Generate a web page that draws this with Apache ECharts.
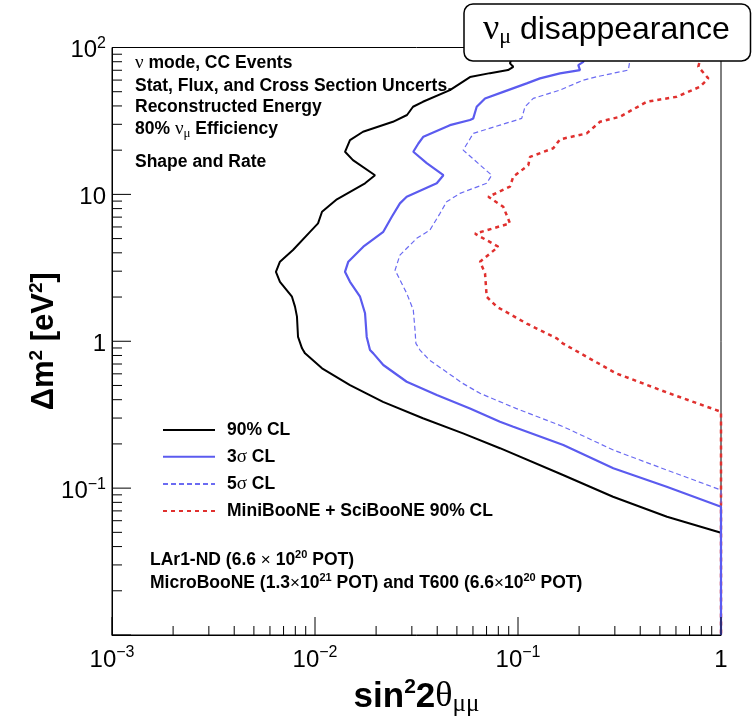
<!DOCTYPE html>
<html><head><meta charset="utf-8">
<script src="https://cdn.jsdelivr.net/npm/echarts@6/dist/echarts.min.js"></script>
<style>html,body{margin:0;padding:0;background:#fff}#c{width:752px;height:728px}</style>
</head><body><div id="c"></div><script>
// ---- data (sin^2 2theta , delta m^2 [eV^2]) ----
const cl90_sin2 = [0.0966, 0.0913, 0.0948, 0.0893, 0.0728, 0.0580, 0.0462, 0.0340, 0.0304, 0.0284, 0.0242, 0.01724, 0.01487, 0.01406, 0.01538, 0.01975, 0.01764, 0.01282, 0.01083, 0.01035, 0.00945, 0.00779, 0.00672, 0.00642, 0.00672, 0.00770, 0.00797, 0.00815, 0.00825, 0.00863, 0.00893, 0.01083, 0.01487, 0.02163, 0.0340, 0.0536, 0.0815, 0.1666, 0.2938, 0.542, 1, 1];
const cl90_dm2  = [100, 78.0, 73.9, 70.2, 66.9, 62.9, 51.3, 42.7, 39.5, 34.7, 31.2, 26.7, 23.4, 19.5, 17.1, 13.5, 11.9, 9.25, 7.61, 6.35, 5.56, 4.18, 3.48, 2.97, 2.54, 2.01, 1.72, 1.47, 1.07, 0.895, 0.827, 0.654, 0.503, 0.387, 0.299, 0.236, 0.187, 0.1228, 0.0874, 0.0639, 0.0497, 0.01];

const s3_sin2 = [0.2163, 0.2098, 0.1982, 0.2020, 0.1610, 0.1283, 0.1104, 0.0846, 0.0688, 0.0626, 0.0602, 0.0580, 0.0462, 0.0342, 0.0323, 0.0305, 0.0355, 0.0429, 0.0398, 0.0283, 0.0262, 0.0239, 0.0217, 0.01730, 0.01459, 0.01405, 0.01487, 0.01667, 0.01764, 0.01798, 0.01866, 0.01937, 0.0217, 0.0283, 0.0398, 0.0580, 0.0815, 0.0948, 0.1672, 0.2948, 0.540, 1, 1];
const s3_dm2  = [100, 79.9, 75.9, 70.2, 66.6, 61.6, 57.0, 49.9, 45.0, 39.5, 32.9, 32.1, 29.6, 24.7, 22.2, 19.5, 16.3, 13.5, 11.9, 9.63, 8.68, 7.04, 5.56, 4.40, 3.48, 2.97, 2.54, 2.01, 1.55, 1.07, 0.871, 0.827, 0.689, 0.530, 0.430, 0.349, 0.283, 0.262, 0.1965, 0.1364, 0.1022, 0.0747, 0.01];

const s5_sin2 = [0.3685, 0.356, 0.3495, 0.2442, 0.2098, 0.1610, 0.1189, 0.1083, 0.1043, 0.0815, 0.0602, 0.0537, 0.0742, 0.0701, 0.0518, 0.0445, 0.0413, 0.0368, 0.0317, 0.0262, 0.0248, 0.0283, 0.0305, 0.0311, 0.0314, 0.0329, 0.0366, 0.0534, 0.0650, 0.0977, 0.1672, 0.2948, 0.540, 1, 1];
const s5_dm2  = [100, 82.1, 70.2, 63.2, 60.0, 51.3, 45.0, 39.5, 32.9, 29.6, 26.0, 20.0, 13.5, 11.9, 10.16, 8.91, 7.43, 5.71, 5.02, 3.86, 3.05, 2.12, 1.63, 1.19, 0.968, 0.871, 0.745, 0.517, 0.442, 0.349, 0.262, 0.1817, 0.1328, 0.0971, 0.01];

const mb_sin2 = [0.815, 0.788, 0.773, 0.866, 0.788, 0.605, 0.4306, 0.318, 0.2535, 0.218, 0.1610, 0.1492, 0.1146, 0.1124, 0.0948, 0.0913, 0.0714, 0.0846, 0.0913, 0.0614, 0.0800, 0.0650, 0.0688, 0.0701, 0.0785, 0.1104, 0.1551, 0.166, 0.304, 0.556, 1, 1];
const mb_dm2  = [100, 82.1, 73.9, 61.6, 54.0, 46.2, 42.7, 33.8, 31.2, 26.0, 23.7, 20.6, 18.0, 15.8, 13.2, 11.3, 9.63, 8.23, 6.35, 5.4, 4.40, 3.48, 2.90, 2.01, 1.72, 1.32, 1.047, 0.968, 0.605, 0.442, 0.331, 0.01];

const seriesNames = ['90% CL', '3σ CL', '5σ CL', 'MiniBooNE + SciBooNE 90% CL'];

// ---- axes ----
const X_MIN = 0.001, X_MAX = 1, Y_MIN = 0.01, Y_MAX = 100;
const xTickValues = [0.001, 0.01, 0.1, 1];
const xTickLabels = ['10{sup|−3}', '10{sup|−2}', '10{sup|−1}', '1'];
const yTickValues = [0.1, 1, 10, 100];
const yTickLabels = ['10{sup|−1}', '1', '10', '10{sup|2}'];

const F = '"Liberation Sans", Arial, Helvetica, sans-serif';
const G = '"Liberation Serif", "DejaVu Serif", serif';

function zip(a, b) { return a.map((v, i) => [v, b[i]]); }
function findLabel(vals, labs, v) {
  for (let i = 0; i < vals.length; i++) {
    if (Math.abs(Math.log10(v) - Math.log10(vals[i])) < 1e-6) return labs[i].replace(/^([^{]+)/, '{m|$1}');
  }
  return '';
}
// minor/major tick positions (2..9 x decade)
function logTicks(lo, hi) {
  const out = [];
  for (let e = lo; e < hi; e++) for (let m = 1; m <= 9; m++) out.push([m * Math.pow(10, e), m === 1]);
  out.push([Math.pow(10, hi), true]);
  return out;
}
const xTicks = logTicks(-3, 0).map(t => [t[0], Y_MIN, t[1] ? 18 : 9]);
const yTicks = logTicks(-2, 2).map(t => [X_MIN, t[0], t[1] ? 19 : 10]);

const labelRich = {
  m: {fontFamily: F, fontSize: 24, lineHeight: 30, color: '#000'},
  sup: {fontFamily: F, fontSize: 16, lineHeight: 13, verticalAlign: 'top', color: '#000'}
};

const chart = echarts.init(document.getElementById('c'), null, {renderer: 'canvas'});

const txtRich = {
  g: {fontFamily: G, fontSize: 19, fontWeight: 'normal', lineHeight: 22, fill: '#000'},
  sub: {fontFamily: G, fontSize: 13, fontWeight: 'normal', lineHeight: 8, verticalAlign: 'bottom', fill: '#000'},
  sup: {fontFamily: F, fontSize: 11, fontWeight: 'bold', lineHeight: 12, verticalAlign: 'top', fill: '#000'},
  n: {fontFamily: F, fontSize: 17, fontWeight: 'normal', lineHeight: 22, fill: '#000'}
};
function txt(x, y, s) {
  return {type: 'text', x: x, y: y, z: 50, silent: true,
    style: {text: s, rich: txtRich, fontFamily: F, fontWeight: 'bold', fontSize: 17.5, lineHeight: 22,
      fill: '#000', verticalAlign: 'middle', align: 'left'}};
}

chart.setOption({
  animation: false,
  grid: {left: 112, right: 31, top: 47.5, bottom: 93, show: true, borderColor: '#000', borderWidth: 1, backgroundColor: 'transparent'},
  xAxis: {
    type: 'log', logBase: 10, min: X_MIN, max: X_MAX, interval: 1,
    axisLine: {show: true, lineStyle: {color: '#000', width: 1}},
    axisTick: {show: false}, splitLine: {show: false},
    axisLabel: {formatter: v => findLabel(xTickValues, xTickLabels, v), margin: 10, showMinLabel: true, showMaxLabel: true, rich: labelRich},
    name: '{b|sin}{bs|2}{b|2}{g|θ}{gs|μμ}', nameLocation: 'middle', nameGap: 41,
    nameTextStyle: {rich: {
      b: {fontFamily: F, fontWeight: 'bold', fontSize: 35, lineHeight: 40, color: '#000'},
      bs: {fontFamily: F, fontWeight: 'bold', fontSize: 21, lineHeight: 14, verticalAlign: 'top', color: '#000'},
      g: {fontFamily: G, fontSize: 36, lineHeight: 40, color: '#000'},
      gs: {fontFamily: G, fontSize: 25, lineHeight: 8, verticalAlign: 'bottom', color: '#000'}
    }}
  },
  yAxis: {
    type: 'log', logBase: 10, min: Y_MIN, max: Y_MAX, interval: 1,
    axisLine: {show: true, lineStyle: {color: '#000', width: 1}},
    axisTick: {show: false}, splitLine: {show: false},
    axisLabel: {formatter: v => findLabel(yTickValues, yTickLabels, v), margin: 6, showMinLabel: true, showMaxLabel: true, rich: labelRich, padding: [6, 0, 0, 0]},
    name: '{b|Δm}{bs|2}{b| [eV}{bs|2}{b|]}', nameLocation: 'middle', nameGap: 51, nameMoveOverlap: false,
    nameTextStyle: {rich: {
      b: {fontFamily: F, fontWeight: 'bold', fontSize: 31, lineHeight: 34, color: '#000'},
      bs: {fontFamily: F, fontWeight: 'bold', fontSize: 19, lineHeight: 12, verticalAlign: 'top', color: '#000'}
    }}
  },
  legend: {
    orient: 'vertical', left: 162, top: 421, padding: 0, itemWidth: 52, itemHeight: 18, itemGap: 8.3,
    data: seriesNames, selectedMode: false,
    itemStyle: {opacity: 0},
    formatter: n => n.replace('σ', '{g|σ}'),
    textStyle: {fontFamily: F, fontWeight: 'bold', fontSize: 17.5, lineHeight: 18, color: '#000', padding: [0, 0, 0, 7],
      rich: {g: {fontFamily: G, fontWeight: 'normal', fontSize: 19, lineHeight: 18, color: '#000'}}}
  },
  series: [
    {type: 'line', name: seriesNames[3], data: zip(mb_sin2, mb_dm2), symbol: 'none', z: 2,
      lineStyle: {color: '#e0302e', width: 2.5, type: [4, 4]}, itemStyle: {color: '#e0302e'}},
    {type: 'line', name: seriesNames[2], data: zip(s5_sin2, s5_dm2), symbol: 'none', z: 3,
      lineStyle: {color: '#6b6bf2', width: 1.2, type: [5, 3]}, itemStyle: {color: '#6b6bf2'}},
    {type: 'line', name: seriesNames[0], data: zip(cl90_sin2, cl90_dm2), symbol: 'none', z: 4,
      lineStyle: {color: '#000', width: 2}, itemStyle: {color: '#000'}},
    {type: 'line', name: seriesNames[1], data: zip(s3_sin2, s3_dm2), symbol: 'none', z: 5,
      lineStyle: {color: '#5b5bef', width: 2.2}, itemStyle: {color: '#5b5bef'}},
    {type: 'custom', name: 'xticks', data: xTicks, clip: false, silent: true, z: 6,
      encode: {x: 0, y: 1},
      renderItem: (p, api) => {
        const c = api.coord([api.value(0), api.value(1)]);
        return {type: 'line', shape: {x1: c[0], y1: c[1], x2: c[0], y2: c[1] - api.value(2)}, style: {stroke: '#000', lineWidth: 1}};
      }},
    {type: 'custom', name: 'yticks', data: yTicks, clip: false, silent: true, z: 6,
      encode: {x: 0, y: 1},
      renderItem: (p, api) => {
        const c = api.coord([api.value(0), api.value(1)]);
        return {type: 'line', shape: {x1: c[0], y1: c[1], x2: c[0] + api.value(2), y2: c[1]}, style: {stroke: '#000', lineWidth: 1}};
      }}
  ],
  graphic: [
    txt(135, 63.5, '{g|ν} mode, CC Events'),
    txt(135, 86, 'Stat, Flux, and Cross Section Uncerts.'),
    txt(135, 107.5, 'Reconstructed Energy'),
    txt(135, 129.5, '80% {g|ν}{sub|μ} Efficiency'),
    txt(135, 162, 'Shape and Rate'),
    txt(150, 560, 'LAr1-ND (6.6 {n|×} 10{sup|20} POT)'),
    txt(150, 583, 'MicroBooNE (1.3{n|×}10{sup|21} POT) and T600 (6.6{n|×}10{sup|20} POT)'),
    {type: 'rect', z: 100, silent: true, shape: {x: 464, y: 4, width: 286.5, height: 57, r: 9},
      style: {fill: '#fff', stroke: '#000', lineWidth: 1.5}},
    {type: 'text', z: 101, silent: true, x: 483, y: 30,
      style: {text: '{g|ν}{s|μ}{t| disappearance}', verticalAlign: 'middle', align: 'left',
        rich: {
          g: {fontFamily: G, fontSize: 36, lineHeight: 36, fill: '#000'},
          s: {fontFamily: G, fontSize: 22, lineHeight: 10, verticalAlign: 'bottom', fill: '#000'},
          t: {fontFamily: F, fontSize: 32, lineHeight: 36, fill: '#000'}
        }}}
  ]
});
</script></body></html>
